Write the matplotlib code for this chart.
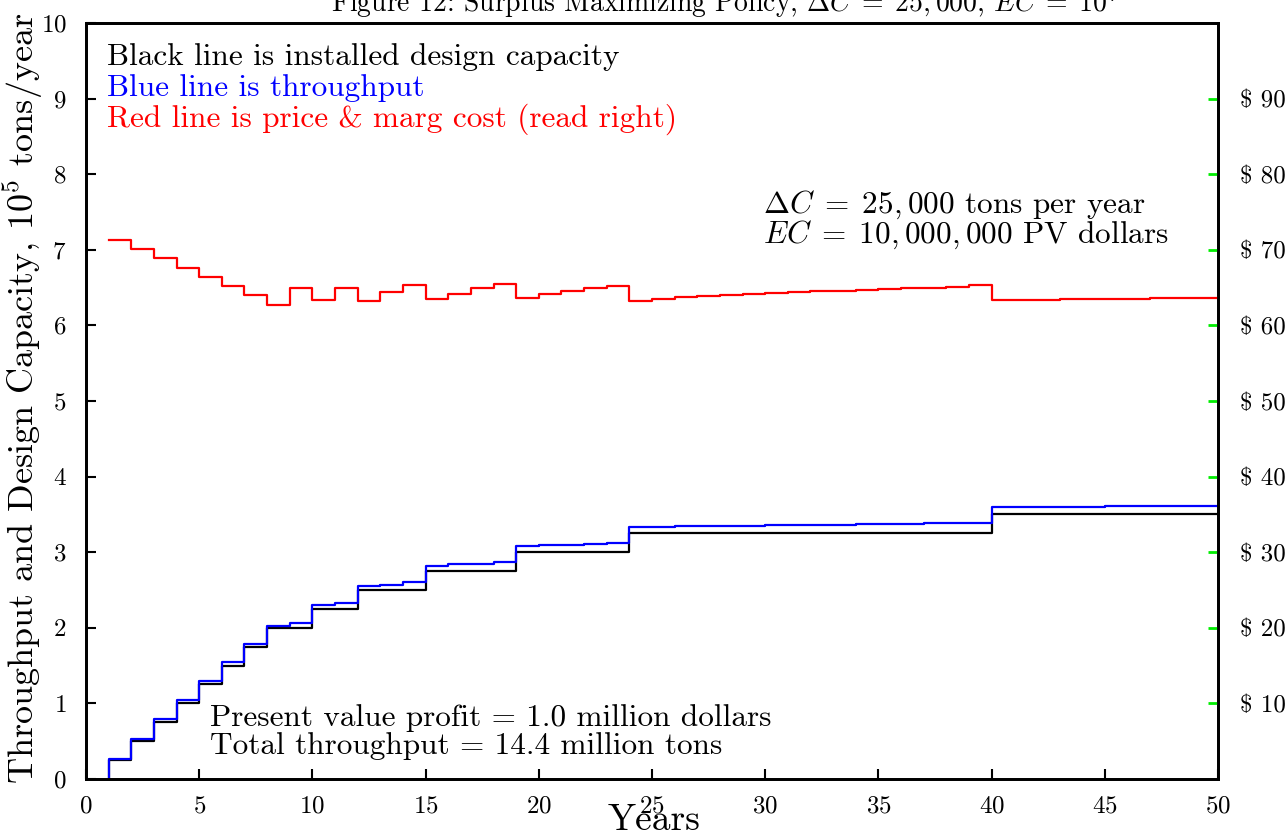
import numpy as np
import matplotlib
matplotlib.use("Agg")
import matplotlib.pyplot as plt

plt.rcParams['font.family'] = 'serif'
plt.rcParams['font.serif'] = ['cmr10']
plt.rcParams['mathtext.fontset'] = 'cm'
plt.rcParams['axes.formatter.use_mathtext'] = True

# yearly values, each holds over [year, year+1)
years = list(range(1, 51))
capacity = [0.25, 0.5, 0.75, 1.0, 1.25, 1.5, 1.75, 2.0, 2.0, 2.25,
            2.25, 2.5, 2.5, 2.5, 2.75, 2.75, 2.75, 2.75, 3.0, 3.0,
            3.0, 3.0, 3.0, 3.25, 3.25, 3.25, 3.25, 3.25, 3.25, 3.25,
            3.25, 3.25, 3.25, 3.25, 3.25, 3.25, 3.25, 3.25, 3.25, 3.5,
            3.5, 3.5, 3.5, 3.5, 3.5, 3.5, 3.5, 3.5, 3.5, 3.5]
throughput = [0.27, 0.53, 0.79, 1.045, 1.30, 1.55, 1.79, 2.03, 2.06, 2.30,
              2.33, 2.55, 2.57, 2.60, 2.82, 2.84, 2.85, 2.87, 3.08, 3.09,
              3.10, 3.11, 3.12, 3.33, 3.335, 3.34, 3.345, 3.35, 3.352, 3.355,
              3.358, 3.36, 3.365, 3.368, 3.37, 3.375, 3.38, 3.385, 3.39, 3.60,
              3.601, 3.602, 3.603, 3.604, 3.605, 3.606, 3.607, 3.608, 3.609, 3.61]
price = [71.3, 70.1, 68.9, 67.6, 66.4, 65.2, 64.0, 62.7, 64.9, 63.4,
         64.9, 63.2, 64.4, 65.3, 63.5, 64.2, 64.9, 65.5, 63.6, 64.1,
         64.5, 64.9, 65.2, 63.2, 63.5, 63.7, 63.9, 64.0, 64.2, 64.3,
         64.4, 64.5, 64.6, 64.7, 64.8, 64.9, 65.0, 65.1, 65.3, 63.3,
         63.35, 63.4, 63.45, 63.5, 63.5, 63.55, 63.6, 63.6, 63.65, 63.7]

# step edges
x_edges = [years[0]] + [y + 1 for y in years]

fig = plt.figure(figsize=(12.87, 8.38), dpi=100)
ax = fig.add_axes([0.0668, 0.0704, 0.8796, 0.9022])
ax2 = ax.twinx()

def step_line(axis, vals, color, start0=False):
    xs = [years[0]] + x_edges
    ys = ([0] if start0 else [vals[0]]) + list(vals) + [vals[-1]]
    axis.step(xs[:len(ys)], ys, where='post', color=color, lw=1.6)

step_line(ax, capacity, 'black', start0=True)
step_line(ax, throughput, 'blue', start0=True)
step_line(ax2, price, 'red')

ax.set_xlim(0, 50)
ax.set_ylim(0, 10)
ax2.set_ylim(0, 100)

ax.set_xticks([0, 5, 10, 15, 20, 25, 30, 35, 40, 45, 50])
ax.set_yticks(range(0, 11))
ax.tick_params(axis='both', direction='in', length=7, width=1.5,
               labelsize=18, right=False, top=False)
ax.tick_params(axis='x', pad=12)
ax.tick_params(axis='y', pad=14)
ax2.set_yticks(range(10, 100, 10))
ax2.set_yticklabels([r'\$ %d' % v for v in range(10, 100, 10)])
ax2.tick_params(axis='y', direction='in', length=7, width=2, color='#00ee00',
                labelsize=18, pad=16)
for a in (ax, ax2):
    for s in a.spines.values():
        s.set_linewidth(2)

# axis titles placed like the original (they overlap the tick labels there too)
fig.text(0.0175, 0.525, r'Throughput and Design Capacity, $10^5$ tons/year',
         rotation=90, ha='center', va='center', fontsize=26)
fig.text(0.508, 0.009, 'Years', ha='center', va='baseline', fontsize=27)

ax.text(0.019, 0.955, 'Black line is installed design capacity', transform=ax.transAxes,
        fontsize=22.5, color='black', va='center')
ax.text(0.019, 0.914, 'Blue line is throughput', transform=ax.transAxes,
        fontsize=22.5, color='blue', va='center')
ax.text(0.019, 0.873, 'Red line is price & marg cost (read right)', transform=ax.transAxes,
        fontsize=22.5, color='red', va='center')

ax.text(29.9, 7.6, r'$\Delta C \;=\; 25,000$ tons per year', fontsize=22.5, va='center')
ax.text(29.9, 7.2, r'$EC \;=\; 10,000,000$ PV dollars', fontsize=22.5, va='center')

ax.text(5.5, 0.81, 'Present value profit = 1.0 million dollars', fontsize=22.5, va='center')
ax.text(5.5, 0.43, 'Total throughput = 14.4 million tons', fontsize=22.5, va='center')

fig.text(0.5633, 0.976, r'Figure 12: Surplus Maximizing Policy, $\Delta C \;=\; 25,000$, $EC \;=\; 10^7$',
         ha='center', va='bottom', fontsize=20)

fig.savefig('out.png', dpi=100)
